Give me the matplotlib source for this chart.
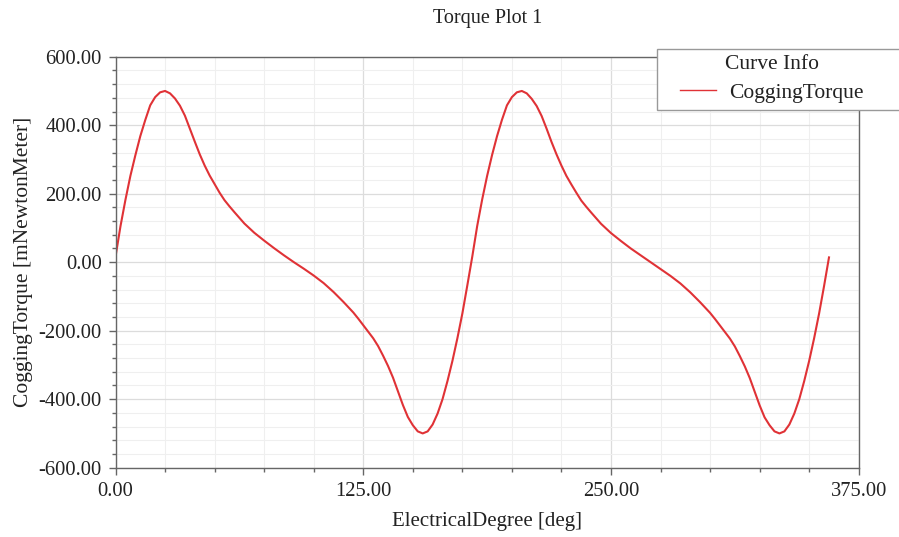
import matplotlib
matplotlib.use("Agg")
import matplotlib.pyplot as plt
from matplotlib.patches import Rectangle
from matplotlib.ticker import MultipleLocator, FormatStrFormatter

plt.rcParams['font.family'] = ['Liberation Serif', 'DejaVu Serif']

title = "Torque Plot 1"
x_label = "ElectricalDegree [deg]"
y_label = "CoggingTorque [mNewtonMeter]"
series_name = "CoggingTorque"
legend_title = "Curve Info"

deg = [0, 2.5, 5, 7.5, 10, 12.5, 15, 17.5, 20, 22.5, 25, 27.5, 30, 32.5, 35, 37.5, 40,
       42.5, 45, 47.5, 50, 52.5, 55, 57.5, 60, 65, 70, 75, 80, 85, 90, 95, 100, 105, 110,
       115, 120, 122.5, 125, 127.5, 130, 132.5, 135, 137.5, 140, 142.5, 145, 147.5, 150,
       152.5, 155, 157.5, 160, 162.5, 165, 167.5, 170, 172.5, 175, 177.5,
       180, 182.5, 185, 187.5, 190, 192.5, 195, 197.5, 200, 202.5, 205, 207.5, 210, 212.5,
       215, 217.5, 220, 222.5, 225, 227.5, 230, 232.5, 235, 237.5, 240, 245, 250, 255,
       260, 265, 270, 275, 280, 285, 290, 295, 300, 302.5, 305, 307.5, 310, 312.5, 315,
       317.5, 320, 322.5, 325, 327.5, 330, 332.5, 335, 337.5, 340, 342.5, 345, 347.5,
       350, 352.5, 355, 357.5, 360]
torque = [16, 105, 182, 252, 312, 368, 415, 458, 482, 496, 500, 493, 478, 457, 428, 390,
          352, 315, 282, 253, 228, 203, 181, 163, 146, 113, 86, 63, 41, 20, 0, -19, -39,
          -61, -87, -116, -147, -165, -184, -203, -222, -245, -273, -303, -337, -377,
          -417, -452, -476, -494, -500, -494, -474, -442, -400, -347, -288, -222, -150,
          -68,
          16, 106, 183, 252, 313, 368, 416, 458, 482, 496, 500, 493, 477, 456, 427, 390,
          351, 315, 282, 252, 227, 203, 180, 162, 145, 112, 85, 62, 40, 20, 0, -20, -40,
          -62, -88, -117, -148, -166, -185, -204, -223, -246, -274, -304, -338, -378,
          -418, -453, -476, -494, -500, -494, -474, -442, -400, -347, -288, -222, -150,
          -70, 14]

W, H = 899, 537
fig = plt.figure(figsize=(W / 100, H / 100), dpi=100)
ax = fig.add_axes([0.1285, 0.1291, 0.9552 - 0.1285, 0.8944 - 0.1291])

line, = ax.plot(deg, torque, color='#e03236', lw=1.5, label=series_name)

ax.set_xlim(0, 375)
ax.set_ylim(-600, 600)
ax.xaxis.set_major_locator(MultipleLocator(125))
ax.xaxis.set_minor_locator(MultipleLocator(25))
ax.yaxis.set_major_locator(MultipleLocator(200))
ax.yaxis.set_minor_locator(MultipleLocator(40))
ax.xaxis.set_major_formatter(FormatStrFormatter('%.2f'))
ax.yaxis.set_major_formatter(FormatStrFormatter('%.2f'))

ax.grid(which='major', color='#dcdcdc', lw=0.9)
ax.grid(which='minor', color='#efefef', lw=0.8)
ax.set_axisbelow(True)

for s in ax.spines.values():
    s.set_color('#666666')
    s.set_linewidth(1.0)

ax.tick_params(which='major', direction='out', length=5, width=1, color='#666666',
               labelsize=14.8, labelcolor='#222222', pad=5)
ax.tick_params(which='minor', direction='out', length=3, width=1, color='#666666')

ax.set_xlabel(x_label, fontsize=15, color='#222222', labelpad=8)
ax.set_ylabel(y_label, fontsize=15.5, color='#222222', labelpad=4)
fig.text(0.542, 0.965, title, ha='center', va='center', fontsize=14.5, color='#222222')

# legend box
box = Rectangle((657 / W, 1 - 110 / H), 250 / W, 61 / H, transform=fig.transFigure,
                facecolor='white', edgecolor='#999999', lw=1.0, zorder=5)
fig.patches.append(box)

leg = fig.legend(handles=[line], title=legend_title, loc='upper left',
                 bbox_to_anchor=(680 / W, 1 - 55 / H),
                 fontsize=15.5, title_fontsize=15.5,
                 frameon=False, handlelength=1.65, handletextpad=0.65,
                 borderpad=0, labelspacing=0.4, borderaxespad=0)
leg.set_zorder(6)
leg.get_title().set_color('#222222')
for t in leg.get_texts():
    t.set_color('#222222')
leg.get_lines()[0].set_linewidth(1.0)

fig.savefig('out.png', dpi=100)
